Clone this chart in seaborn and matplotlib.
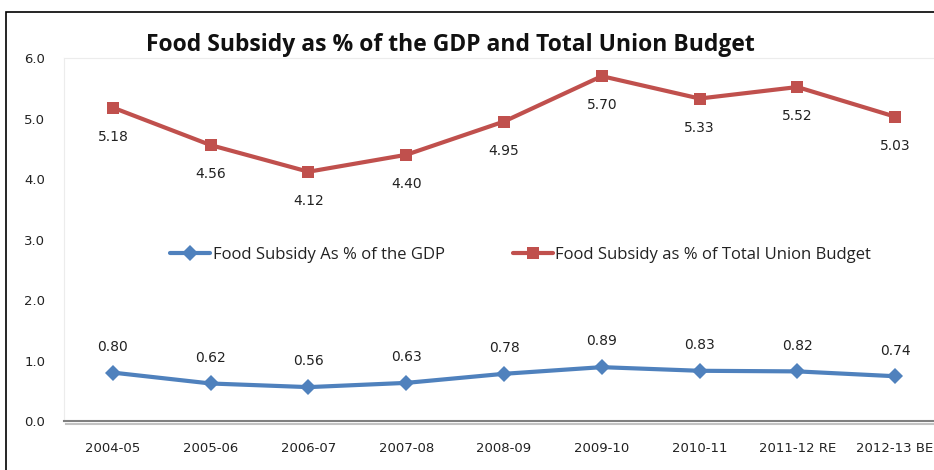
import matplotlib
matplotlib.use("Agg")
import matplotlib.pyplot as plt
import matplotlib.patheffects as pe
from matplotlib.patches import Rectangle
import pandas as pd
import seaborn as sns

years = ["2004-05", "2005-06", "2006-07", "2007-08", "2008-09",
         "2009-10", "2010-11", "2011-12 RE", "2012-13 BE"]
gdp_share = [0.80, 0.62, 0.56, 0.63, 0.78, 0.89, 0.83, 0.82, 0.74]
budget_share = [5.18, 4.56, 4.12, 4.40, 4.95, 5.70, 5.33, 5.52, 5.03]
y_ticks = [0.0, 1.0, 2.0, 3.0, 4.0, 5.0, 6.0]

gdp_label = "Food Subsidy As % of the GDP"
budget_label = "Food Subsidy as % of Total Union Budget"
title = "Food Subsidy as % of the GDP and Total Union Budget"

blue = "#4F81BD"
red = "#C0504D"

sns.set_theme(style="white")
plt.rcParams["font.family"] = ["DejaVu Sans"]

df = pd.DataFrame({
    "pos": list(range(len(years))) * 2,
    "value": gdp_share + budget_share,
    "series": [gdp_label] * len(years) + [budget_label] * len(years),
})

fig = plt.figure(figsize=(9.34, 4.70), dpi=100)
ax = fig.add_axes([64 / 934, 1 - 421 / 470, 880 / 934, (421 - 58) / 470])

sns.lineplot(
    data=df, x="pos", y="value", hue="series", style="series",
    palette={gdp_label: blue, budget_label: red},
    markers={gdp_label: "D", budget_label: "s"},
    dashes=False, linewidth=3, markersize=8, markeredgewidth=0,
    sort=False, ax=ax,
)

# value labels: GDP share above, budget share below
for i, v in enumerate(gdp_share):
    ax.annotate(f"{v:.2f}", (i, v), xytext=(0, 18.5), textcoords="offset points",
                ha="center", va="center", fontsize=10, color="#222222")
for i, v in enumerate(budget_share):
    ax.annotate(f"{v:.2f}", (i, v), xytext=(0, -21), textcoords="offset points",
                ha="center", va="center", fontsize=10, color="#222222")

ax.set_xlim(-0.5, len(years) - 0.5)
ax.set_ylim(0, 6)
ax.set_xticks(range(len(years)))
ax.set_xticklabels(years, fontsize=9.5, color="#222222")
ax.set_yticks(y_ticks)
ax.set_yticklabels([f"{t:.1f}" for t in y_ticks], fontsize=9.5, color="#222222")
ax.tick_params(axis="y", length=0, pad=13.5)
ax.tick_params(axis="x", length=0, pad=15)
ax.set_xlabel("")
ax.set_ylabel("")

for side in ["left", "top", "right"]:
    ax.spines[side].set_color("#ececec")
    ax.spines[side].set_linewidth(0.8)
ax.spines["bottom"].set_color("#7f7f7f")
ax.spines["bottom"].set_linewidth(1.5)
ax.spines["bottom"].set_path_effects([
    pe.SimpleLineShadow(offset=(1.5, -2), shadow_color="#9a9a9a", alpha=0.6),
    pe.Normal(),
])

handles, labels = ax.get_legend_handles_labels()
leg = ax.legend(handles, labels, loc="center", bbox_to_anchor=(0.519, 0.457),
                ncol=2, frameon=False, fontsize=12, columnspacing=4.1,
                handlelength=2.4, handletextpad=0.15)
for t in leg.get_texts():
    t.set_family(["Open Sans", "DejaVu Sans"])
    t.set_color("#222222")

fig.text(450 / 934, 1 - 45 / 470, title, ha="center", va="center",
         fontsize=16.5, fontweight="bold", family=["Open Sans", "DejaVu Sans"],
         color="#111111")

# outer chart border (left and top edges visible)
fig.patches.append(Rectangle((6 / 934, -0.1), 1.2, 1 - 12 / 470 + 0.1,
                             transform=fig.transFigure, fill=False,
                             edgecolor="#000000", linewidth=1.2))

fig.savefig("out.png", dpi=100)
